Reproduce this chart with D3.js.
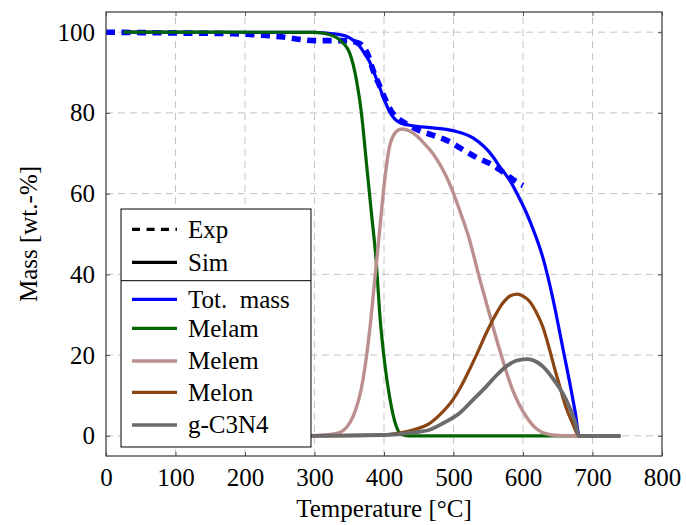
<!DOCTYPE html>
<html><head><meta charset="utf-8">
<script src="https://cdn.jsdelivr.net/npm/d3@7"></script>
<style>
html,body{margin:0;padding:0;background:#fff;}
</style></head>
<body><svg id="c" width="686" height="525"></svg>
<script>
// ---- data (T in °C, mass in wt.-%) ----
const xTicks = [0,100,200,300,400,500,600,700,800];
const yTicks = [0,20,40,60,80,100];

const expTotal = [[0,100],[50,99.9],[100,99.8],[183,99.6],[212,99.4],[235,99.1],[255,98.8],[279,98.2],[300,97.9],[322,97.9],[346,97.9],[358,97.6],[367.5,96.9],[377,94.4],[384,90.7],[394,86.6],[401,83.7],[410.6,80.4],[422.6,78.3],[432,77.3],[442,76.4],[451,75.6],[470,74.5],[494,72.9],[513.5,70.9],[535,68.8],[554,67.3],[573,65.1],[590,63],[600,62]];

const simTotal = [[25,100],[300,99.95],[317,99.8],[336,99.4],[346,99],[355,98.1],[365,96.5],[372,94.7],[379.5,92.6],[384,90.7],[391,87.6],[398.6,84.1],[404,81.8],[408,80.3],[415,78.6],[422.6,77.6],[435,77],[446.5,76.7],[470,76.3],[499,75.6],[528,73.8],[556.6,69.2],[566,66.8],[580.6,63.4],[595,58.8],[605,55.2],[614,51.4],[628.5,44.2],[643,34],[657,22],[669,11.6],[675,6],[681,0],[740,0]];

const simMelam = [[25,100],[300,99.97],[317,99.6],[336,98.1],[350.6,94.8],[360.3,88.2],[367.5,80],[374.7,67.6],[381.9,55.2],[389,42.8],[393.8,30.4],[401,18],[408,9.7],[417.8,2.3],[425,0.3],[435,0],[740,0]];

const simMelem = [[25,0],[300,0.1],[320,0.3],[336,0.8],[355.5,4.8],[369.8,13.9],[379.5,26.3],[386.7,38.7],[393.8,51],[401,63.4],[408,71.7],[417.8,75.4],[425,76],[437,75.5],[446.5,74.4],[458,72.4],[470,70],[494,62.6],[508.6,56],[523,48.6],[537.5,39],[552,30],[566,21.5],[585,11.4],[604.6,4.8],[619,1.8],[628,0.8],[642,0.2],[660,0],[740,0]];

const simMelon = [[25,0],[300,0],[380,0.1],[420,0.6],[445,1.6],[465.7,3.1],[482,5.5],[499,8.9],[511,12.3],[523,16.4],[535,20.8],[547,25.4],[559,29.5],[571,32.9],[582,34.7],[592,35.1],[600,34.6],[609,33.4],[618,31],[628.5,27],[638,21.5],[645,17],[652,12.8],[662,7],[671.6,3],[677,0.8],[680,0],[740,0]];

const simGC3N4 = [[25,0],[300,0],[400,0.2],[440,0.8],[465.7,1.5],[487,3.3],[508.6,5.6],[528,8.9],[547,12.2],[562,15],[576,17.2],[590,18.6],[605,19],[615,18.7],[628.5,17.2],[643,14.2],[648,13],[662,9],[674,4],[681,0],[740,0]];

const legendTop = ["Exp","Sim"];
const legendNames = ["Tot. mass","Melam","Melem","Melon","g-C3N4"];
const colors = ["#0000ff","#006400","#bc8f8f","#8b4513","#6b6b6b"];

const FONT = "'Liberation Serif', serif";

// ---- layout ----
const svg = d3.select("#c");
const L=106, R=662, T=12, B=456;
const x = d3.scaleLinear().domain([0,800]).range([L,R]);
const y = d3.scaleLinear().domain([-5,105]).range([B,T]);

svg.append("defs").append("clipPath").attr("id","clip")
  .append("rect").attr("x",L).attr("y",T).attr("width",R-L).attr("height",B-T);

const grid = svg.append("g").attr("stroke","#c4c4c4").attr("stroke-width",1).attr("stroke-dasharray","7,5");
grid.selectAll(".gx").data(xTicks.slice(1,-1)).join("line")
  .attr("x1",d=>x(d)).attr("x2",d=>x(d)).attr("y1",B).attr("y2",T);
grid.selectAll(".gy").data(yTicks).join("line")
  .attr("y1",d=>y(d)).attr("y2",d=>y(d)).attr("x1",L).attr("x2",R);

const fs = 25;
const axB = svg.append("g").attr("transform",`translate(0,${B})`)
  .call(d3.axisBottom(x).tickValues(xTicks).tickSize(-4).tickPadding(12));
const axT = svg.append("g").attr("transform",`translate(0,${T})`)
  .call(d3.axisTop(x).tickValues(xTicks).tickSize(-4).tickFormat(""));
const axL = svg.append("g").attr("transform",`translate(${L},0)`)
  .call(d3.axisLeft(y).tickValues(yTicks).tickSize(-4).tickPadding(11));
const axR = svg.append("g").attr("transform",`translate(${R},0)`)
  .call(d3.axisRight(y).tickValues(yTicks).tickSize(-4).tickFormat(""));
[axB,axT,axL,axR].forEach(a=>{
  a.attr("font-family",FONT).attr("font-size",fs);
  a.select(".domain").remove();
  a.selectAll(".tick line").attr("stroke","#555").attr("stroke-width",1);
  a.selectAll("text").attr("fill","#000");
});

const line = d3.line().x(d=>x(d[0])).y(d=>y(d[1])).curve(d3.curveMonotoneX);
const plot = svg.append("g").attr("clip-path","url(#clip)");
plot.append("path").datum(expTotal).attr("d",line).attr("fill","none")
  .attr("stroke",colors[0]).attr("stroke-width",5.6).attr("stroke-dasharray","9,6.5");
const sims = [simTotal,simMelam,simMelem,simMelon,simGC3N4];
const widths = [3.2,3.2,3.4,3.2,3.8];
sims.forEach((s,i)=>{
  plot.append("path").datum(s).attr("d",line).attr("fill","none")
    .attr("stroke",colors[i]).attr("stroke-width",widths[i]).attr("stroke-linejoin","round");
});

svg.append("rect").attr("x",L).attr("y",T).attr("width",R-L).attr("height",B-T)
  .attr("fill","none").attr("stroke","#444").attr("stroke-width",1.3);

svg.append("text").attr("x",(L+R)/2).attr("y",517).attr("text-anchor","middle")
  .attr("font-family",FONT).attr("font-size",fs).text("Temperature [°C]");
svg.append("text").attr("transform",`translate(37,${(T+B)/2}) rotate(-90)`).attr("text-anchor","middle")
  .attr("font-family",FONT).attr("font-size",fs).text("Mass [wt.-%]");

const lg = svg.append("g").attr("font-family",FONT);
lg.append("rect").attr("x",121).attr("y",209).attr("width",190).attr("height",238)
  .attr("fill","#fff").attr("stroke","#000").attr("stroke-width",1);
lg.append("line").attr("x1",121).attr("x2",311).attr("y1",280.7).attr("y2",280.7)
  .attr("stroke","#000").attr("stroke-width",1);
const topRows = [229.3,262.3];
legendTop.forEach((n,i)=>{
  lg.append("line").attr("x1",132).attr("x2",177).attr("y1",topRows[i]).attr("y2",topRows[i])
    .attr("stroke","#000").attr("stroke-width",3.3).attr("stroke-dasharray",i===0?"8,6.5":null);
  lg.append("text").attr("x",188).attr("y",topRows[i]+8.3).attr("font-size",fs).text(n);
});
const rows = [299.3,328.3,361,392.3,425];
legendNames.forEach((n,i)=>{
  lg.append("line").attr("x1",132).attr("x2",177).attr("y1",rows[i]).attr("y2",rows[i])
    .attr("stroke",colors[i]).attr("stroke-width",3.3);
  lg.append("text").attr("x",188).attr("y",rows[i]+8.2).attr("font-size",fs)
    .style("white-space","pre").text(n.replace(". ",".  "));
});
</script></body></html>
